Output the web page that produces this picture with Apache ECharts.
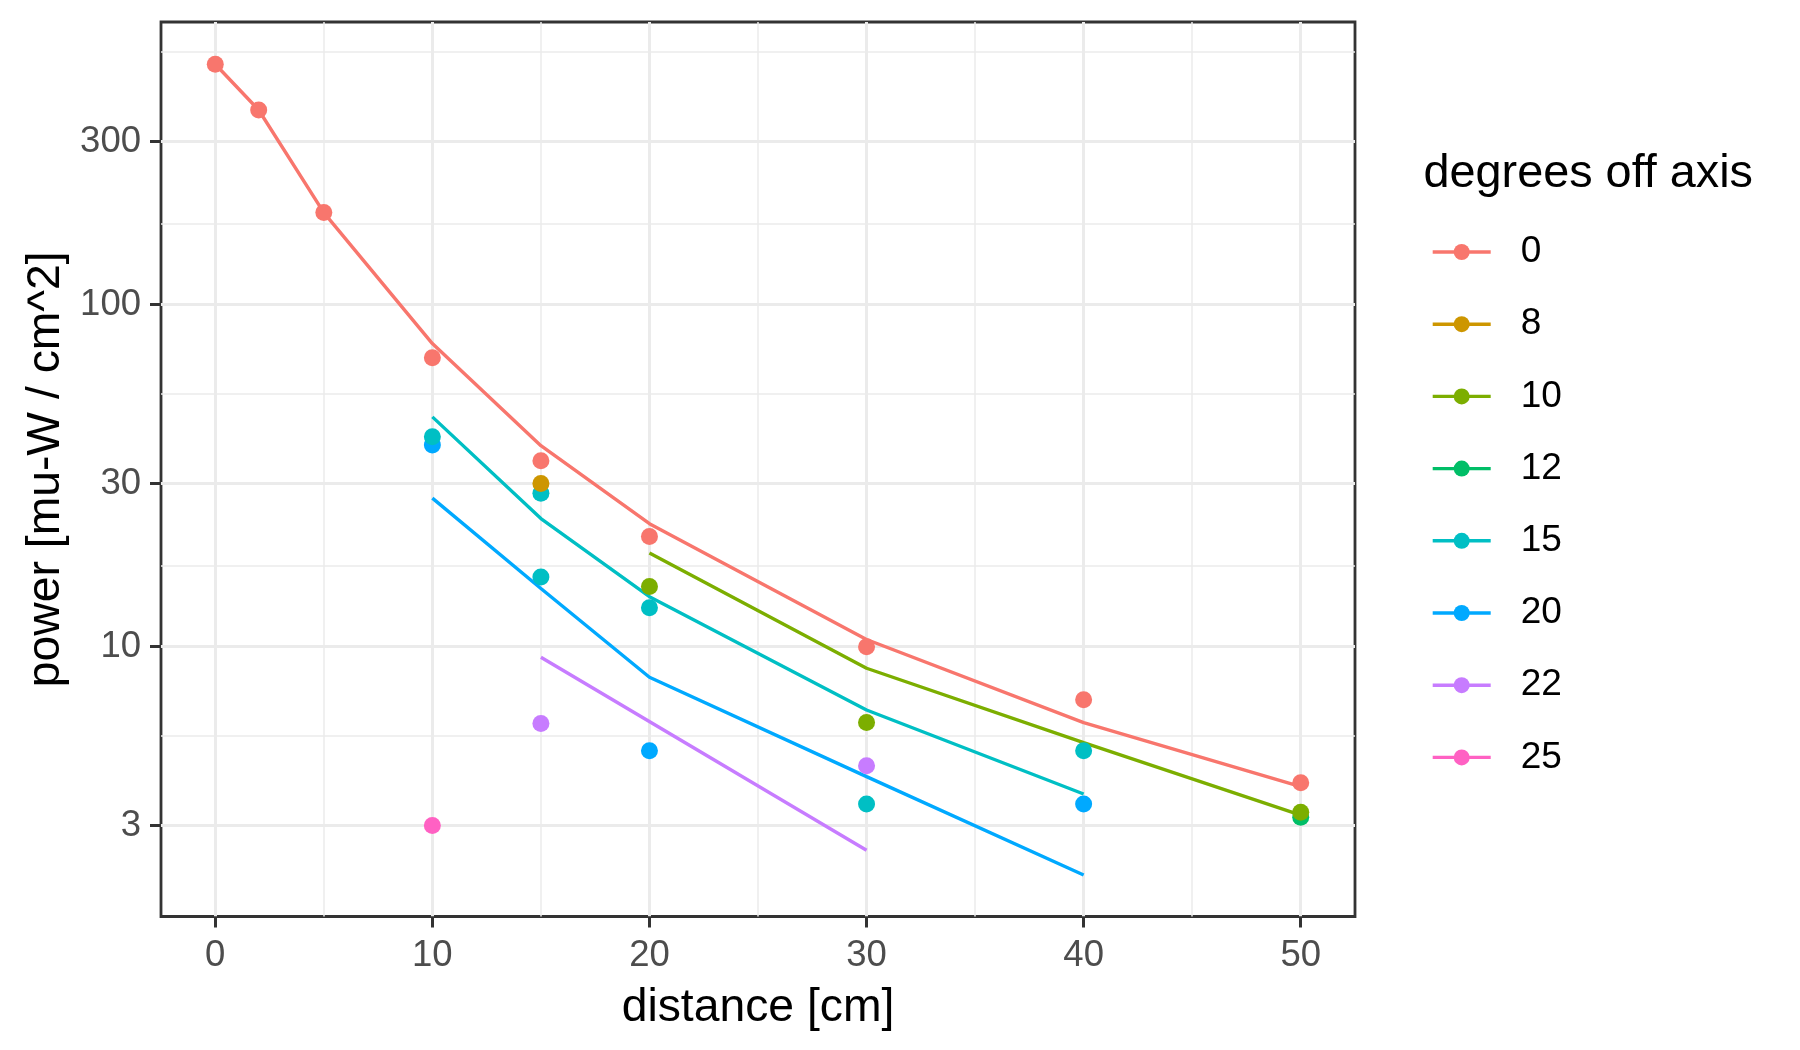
<!DOCTYPE html>
<html><head><meta charset="utf-8">
<script src="https://cdn.jsdelivr.net/npm/echarts@6/dist/echarts.min.js"></script>
<style>html,body{margin:0;padding:0;background:#fff}#c{width:1800px;height:1050px}</style>
</head><body><div id="c"></div>
<script>
// ---- data ----
const degrees = ['0', '8', '10', '12', '15', '20', '22', '25'];
const colors = ['#F8766D', '#CD9600', '#7CAE00', '#00BE67', '#00BFC4', '#00A9FF', '#C77CFF', '#FF61C3'];
const xTicks = [0, 10, 20, 30, 40, 50];
const xMinor = [5, 15, 25, 35, 45];
const yTicks = [3, 10, 30, 100, 300];
const yMinor = [5.48, 17.3, 54.8, 173, 548];

// observed points [distance, power] and fitted line per angle
const obs0 = [[0, 505], [2, 371], [5, 186], [10, 70], [15, 35], [20, 21], [30, 10], [40, 7], [50, 4]];
const fit0 = [[0, 505], [2, 371], [5, 186], [10, 77], [15, 38.7], [20, 22.9], [30, 10.5], [40, 6.0], [50, 3.9]];
const obs8 = [[15, 30]];
const fit8 = [];
const obs10 = [[20, 15], [30, 6], [50, 3.28]];
const fit10 = [[20, 18.8], [30, 8.65], [40, 5.24], [50, 3.22]];
const obs12 = [[50, 3.17]];
const fit12 = [];
const obs15 = [[10, 41.1], [15, 28.1], [15, 16], [20, 13], [30, 3.47], [40, 4.96]];
const fit15 = [[10, 47], [15, 23.7], [20, 14], [30, 6.53], [40, 3.71]];
const obs20 = [[10, 38.9], [20, 4.96], [40, 3.47]];
const fit20 = [[10, 27.2], [15, 14.8], [20, 8.14], [30, 4.17], [40, 2.15]];
const obs22 = [[15, 5.96], [30, 4.49]];
const fit22 = [[15, 9.31], [30, 2.54]];
const obs25 = [[10, 3]];
const fit25 = [];

const obsList = [obs0, obs8, obs10, obs12, obs15, obs20, obs22, obs25];
const fitList = [fit0, fit8, fit10, fit12, fit15, fit20, fit22, fit25];

const FONT = '"Liberation Sans", Arial, Helvetica, sans-serif';

// ---- series ----
const series = [];
// gridlines (behind everything)
const gridLines = [];
yTicks.forEach(v => gridLines.push({ yAxis: v, lineStyle: { width: 3 } }));
yMinor.forEach(v => gridLines.push({ yAxis: v, lineStyle: { width: 1.5 } }));
xTicks.forEach(v => gridLines.push({ xAxis: v, lineStyle: { width: 3 } }));
xMinor.forEach(v => gridLines.push({ xAxis: v, lineStyle: { width: 1.5 } }));
series.push({
  type: 'line', name: '__grid', data: [], silent: true, z: 0,
  markLine: {
    silent: true, z: 0, symbol: ['none', 'none'], animation: false,
    label: { show: false },
    lineStyle: { color: '#EBEBEB', type: 'solid' },
    emphasis: { disabled: true },
    data: gridLines
  }
});
// fitted lines
degrees.forEach((d, i) => {
  series.push({
    type: 'line', name: d, data: fitList[i], showSymbol: false, symbol: 'circle',
    z: 2, silent: true,
    itemStyle: { color: colors[i] },
    lineStyle: { color: colors[i], width: 3.4 },
    emphasis: { disabled: true }
  });
});
// observed points (lower angles drawn on top)
for (let i = degrees.length - 1; i >= 0; i--) {
  series.push({
    type: 'scatter', name: degrees[i], data: obsList[i], symbol: 'circle', symbolSize: 17,
    z: 3, silent: true,
    itemStyle: { color: colors[i], opacity: 1 },
    emphasis: { disabled: true }
  });
}

const chart = echarts.init(document.getElementById('c'), null, { renderer: 'canvas' });
chart.setOption({
  animation: false,
  backgroundColor: '#ffffff',
  textStyle: { fontFamily: FONT },
  grid: {
    left: 161, top: 22, width: 1194, height: 894.5,
    show: true, borderColor: '#333333', borderWidth: 2.8, backgroundColor: 'transparent',
    containLabel: false, outerBoundsMode: 'none'
  },
  title: {
    text: 'degrees off axis', left: 1423.5, top: 151.5, padding: 0,
    textStyle: { fontSize: 46.8, fontWeight: 'normal', color: '#000000', fontFamily: FONT, lineHeight: 46 }
  },
  legend: {
    orient: 'vertical', left: 1431, top: 232, padding: 0,
    data: degrees,
    itemWidth: 58, itemHeight: 20, itemGap: 32.2,
    selectedMode: false,
    lineStyle: { width: 3.4 },
    textStyle: { fontSize: 37, color: '#000000', fontFamily: FONT, lineHeight: 40, padding: [0, 0, 0, 25] }
  },
  xAxis: {
    type: 'value', min: -2.5, max: 52.5,
    axisLine: { show: false, onZero: false },
    axisTick: { show: true, customValues: xTicks, length: 11, lineStyle: { color: '#333333', width: 3 } },
    axisLabel: { customValues: xTicks, margin: 21, fontSize: 36.5, color: '#4D4D4D', fontFamily: FONT },
    splitLine: { show: false },
    name: 'distance [cm]', nameLocation: 'middle', nameGap: 69,
    nameTextStyle: { fontSize: 46.3, color: '#000000', fontFamily: FONT }
  },
  yAxis: {
    type: 'log', logBase: 10, min: 1.626, max: 671,
    axisLine: { show: false, onZero: false },
    axisTick: { show: true, customValues: yTicks, length: 11, lineStyle: { color: '#333333', width: 3 } },
    axisLabel: { customValues: yTicks, margin: 20, fontSize: 36.5, color: '#4D4D4D', fontFamily: FONT,
      formatter: v => String(Math.round(v)) },
    splitLine: { show: false },
    minorSplitLine: { show: false },
    name: 'power [mu-W / cm^2]', nameLocation: 'middle', nameGap: 91,
    nameTextStyle: { fontSize: 46.3, color: '#000000', fontFamily: FONT }
  },
  series: series
});
</script>
</body></html>
